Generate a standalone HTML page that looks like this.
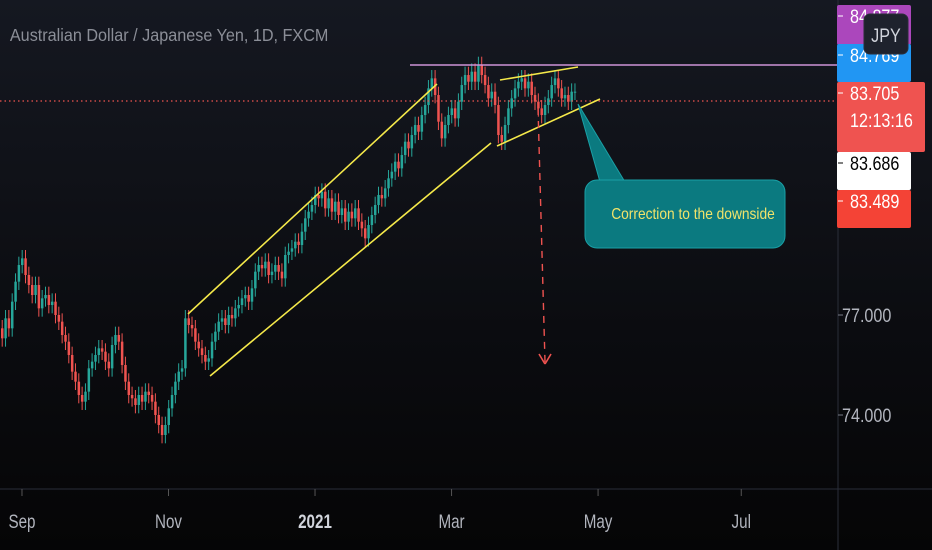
<!DOCTYPE html>
<html><head><meta charset="utf-8"><style>
html,body{margin:0;padding:0;background:#000;}
#wrap{position:relative;width:932px;height:550px;overflow:hidden;background:linear-gradient(180deg,#151821 0%,#0b0c10 60%,#050506 100%);font-family:"Liberation Sans",sans-serif;}
svg{position:absolute;left:0;top:0;}
</style></head><body>
<div id="wrap">
<svg id="chart" width="932" height="550"></svg>
</div>
<script>
const closes=[76.3,76.9,76.6,77.4,78.0,78.5,78.7,78.2,77.9,77.6,77.9,77.2,77.5,77.6,77.3,77.4,77.0,76.8,76.4,76.2,75.8,75.3,75.0,74.6,74.4,74.7,75.4,75.6,75.8,76.0,75.9,75.6,75.4,76.1,76.4,76.2,75.5,75.0,74.6,74.5,74.3,74.6,74.4,74.7,74.6,74.4,74.0,73.7,73.4,73.7,74.2,74.6,75.0,75.3,75.4,76.9,76.7,76.6,76.2,76.0,75.8,75.6,75.7,76.2,76.5,76.8,76.9,76.7,77.0,76.9,77.2,77.3,77.5,77.6,77.4,77.8,78.3,78.5,78.4,78.6,78.2,78.3,78.5,78.3,78.1,78.8,78.9,79.0,79.2,79.1,79.5,79.9,80.1,80.3,80.6,80.5,80.7,80.2,80.5,80.1,80.4,80.0,80.2,79.8,80.1,79.9,80.2,79.8,79.6,79.3,79.7,80.0,80.3,80.6,80.5,80.8,81.1,81.3,81.6,81.4,81.8,82.2,82.0,82.4,82.7,82.5,83.0,83.3,83.8,84.1,83.6,82.8,82.3,82.7,83.0,83.2,82.9,83.4,83.9,84.2,84.0,84.3,84.0,84.5,84.2,83.9,83.5,83.7,83.3,82.4,82.2,82.7,83.2,83.5,83.8,84.0,84.1,83.8,84.0,83.6,83.4,83.2,83.0,83.3,83.5,83.9,84.1,83.8,83.5,83.6,83.4,83.7,83.7];
const firstOpen=76.6;
const yTicks=[74,77];
const xTickLabels=["Sep","Nov","2021","Mar","May","Jul"];
const xTickIndex=[6,50,94,135,179,222];

const svg=document.getElementById('chart');
const NS='http://www.w3.org/2000/svg';
const X0=1, STEP=3.33;
function xs(i){return X0+i*STEP;}
function ys(v){return 315-(v-77)*33.33;}
function mk(t,a,parent){const e=document.createElementNS(NS,t);for(const k in a)e.setAttribute(k,a[k]);(parent||svg).appendChild(e);return e;}

const ax=mk('line',{x1:0,y1:489,x2:932,y2:489,stroke:'#2a2e39','stroke-width':1});


const sep=mk('line',{x1:838,y1:0,x2:838,y2:550,stroke:'#2a2e39','stroke-width':1});



const cg=mk('g',{});


closes.forEach((c,i)=>{
  const o=i===0?firstOpen:closes[i-1];
  const up=c>=o;
  const col=up?'#26a69a':'#ef5350';
  const hi=Math.max(o,c)+0.25, lo=Math.min(o,c)-0.25;
  const x=xs(i);
  const w=mk('line',{x1:x+1.2,y1:ys(hi),x2:x+1.2,y2:ys(lo),stroke:col,'stroke-width':1},cg);
  
  
  const top=ys(Math.max(o,c)), h=Math.max(1,Math.abs(ys(o)-ys(c)));
  const b=mk('rect',{x:x,y:top,width:2.5,height:h,fill:col},cg);
  
  
});

function ln(x1,y1,x2,y2,col,name,extra){const l=mk('line',Object.assign({x1,y1,x2,y2,stroke:col,'stroke-width':1.6},extra||{}));return l;}
ln(410,65,838,65,'#ce93d8','resistance-line');
ln(0,101,838,101,'#ef5350','last-price-line',{'stroke-dasharray':'1.5 3','stroke-width':1.2});
ln(188,314,437,84,'#f5e94a','channel-upper');
ln(210,376,491,143,'#f5e94a','channel-lower');
ln(500,80,578,67,'#f5e94a','wedge-upper');
ln(497,146,600,99,'#f5e94a','wedge-lower');
ln(538,108,545,362,'#ef5350','target-arrow',{'stroke-dasharray':'7 6','stroke-width':1.4});
ln(539,354,545,364,'#ef5350','arrow-head-left');
ln(551,354,545,364,'#ef5350','arrow-head-right');

const cp=mk('path',{d:'M578,104 L600,182 L625,182 Z',fill:'#0b7a80',stroke:'#1aa0a6','stroke-width':1});


const cb=mk('rect',{x:585,y:180,width:200,height:68,rx:12,fill:'#0b7a80',stroke:'#1aa0a6','stroke-width':1});


const ct=mk('text',{x:693,y:219,fill:'#f0e36a','font-size':16,'text-anchor':'middle','font-family':'Liberation Sans, sans-serif',transform:'translate(693,0) scale(0.86,1) translate(-693,0)'});
ct.textContent='Correction to the downside';



const tt=mk('text',{x:11,y:41,fill:'#8b8e97','font-size':18,'font-family':'Liberation Sans, sans-serif',transform:'scale(0.9,1)'});
tt.textContent='Australian Dollar / Japanese Yen, 1D, FXCM';



yTicks.forEach(v=>{
  const t=mk('text',{x:842,y:ys(v)+7,fill:'#b2b5be','font-size':19,'font-family':'Liberation Sans, sans-serif',transform:`translate(842,0) scale(0.85,1) translate(-842,0)`});
  t.textContent=v.toFixed(3);
  
  
  const m=mk('line',{x1:838,y1:ys(v),x2:843,y2:ys(v),stroke:'#787b86'});
  
  
});
xTickLabels.forEach((s,k)=>{
  const x=xs(xTickIndex[k])+1;
  const m=mk('line',{x1:x,y1:489,x2:x,y2:496,stroke:'#555'});
  
  
  const t=mk('text',{x:x,y:528,fill:s==='2021'?'#d1d4dc':'#b2b5be','font-size':19,'font-weight':s==='2021'?'bold':'normal','text-anchor':'middle','font-family':'Liberation Sans, sans-serif',transform:`translate(${x},0) scale(0.8,1) translate(${-x},0)`});
  t.textContent=s;
  
  
});

function badge(y,h,w,bg,fg,lines,name){
  const g=mk('g',{});
  
  
  mk('rect',{x:837,y:y,width:w,height:h,rx:2,fill:bg},g);
  mk('line',{x1:838,y1:y+11,x2:843,y2:y+11,stroke:fg},g);
  lines.forEach((s,k)=>{const t=mk('text',{x:850,y:y+18+k*27,fill:fg,'font-size':19,'font-family':'Liberation Sans, sans-serif',transform:'translate(850,0) scale(0.85,1) translate(-850,0)'},g);t.textContent=s;});
}
badge(5,40,74,'#ab47bc','#fff',['84.877'],'price-label-purple');
badge(44,38,74,'#2196f3','#fff',['84.769'],'price-label-blue');
badge(82,70,88,'#ef5350','#fff',['83.705','12:13:16'],'price-label-last');
badge(152,38,74,'#ffffff','#000',['83.686'],'price-label-white');
badge(190,38,74,'#f44336','#fff',['83.489'],'price-label-red');
const jg=mk('g',{});


mk('rect',{x:864,y:14,width:44,height:40,rx:6,fill:'#1e222d',stroke:'#2a2e39'},jg);
const jt=mk('text',{x:886,y:42,fill:'#d1d4dc','font-size':19,'text-anchor':'middle','font-family':'Liberation Sans, sans-serif',transform:'translate(886,0) scale(0.85,1) translate(-886,0)'},jg);
jt.textContent='JPY';
</script>
</body></html>
